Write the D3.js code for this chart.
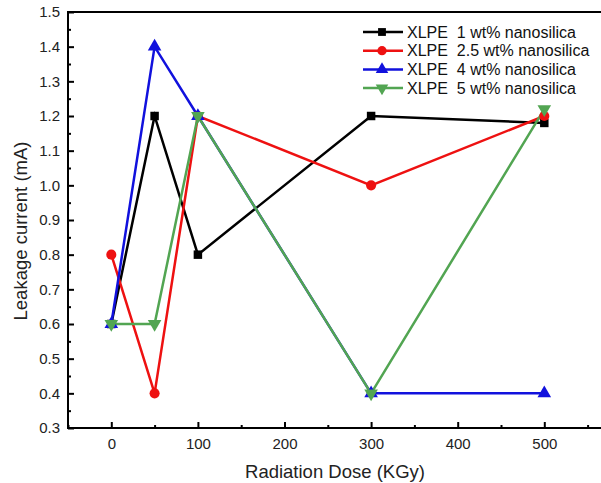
<!DOCTYPE html>
<html><head><meta charset="utf-8">
<script src="https://cdn.jsdelivr.net/npm/d3@7"></script>
<style>body{margin:0;background:#fff;overflow:hidden}svg{display:block}</style>
</head><body>
<script>
const doses = [0, 50, 100, 300, 500];
const seriesNames = ["XLPE  1 wt% nanosilica", "XLPE  2.5 wt% nanosilica", "XLPE  4 wt% nanosilica", "XLPE  5 wt% nanosilica"];
const s1 = [0.6, 1.2, 0.8, 1.2, 1.18];
const s25 = [0.8, 0.4, 1.2, 1.0, 1.2];
const s4 = [0.6, 1.4, 1.2, 0.4, 0.4];
const s5 = [0.6, 0.6, 1.2, 0.4, 1.22];
const xTicks = [0, 100, 200, 300, 400, 500];
const yTicks = [0.3,0.4,0.5,0.6,0.7,0.8,0.9,1.0,1.1,1.2,1.3,1.4,1.5];

const colors = ["#000000", "#ee1111", "#1111dd", "#52a552"];
const shapes = [d3.symbolSquare, d3.symbolCircle, d3.symbolTriangle, d3.symbolTriangle];
const rotations = [0, 0, 0, 180];
const sizes = [72, 80, 80, 80];
const allSeries = [s1, s25, s4, s5];

const W = 601, H = 483;
const svg = d3.select("body").append("svg").attr("width", W).attr("height", H);
const mLeft = 68, mTop = 12, mBottom = 428;
const x = d3.scaleLinear().domain([-50, 600]).range([mLeft, mLeft + 650 * 0.866]);
const y = d3.scaleLinear().domain([0.3, 1.5]).range([mBottom, mTop]);
const font = "Liberation Sans, Arial, sans-serif";

// frame
svg.append("rect").attr("x", mLeft).attr("y", mTop).attr("width", x(600) - mLeft).attr("height", mBottom - mTop)
  .attr("fill", "none").attr("stroke", "#000").attr("stroke-width", 2);

// x axis
const xAxis = d3.axisBottom(x).tickValues(xTicks).tickSize(-6).tickPadding(10).tickFormat(d3.format("d"));
const gx = svg.append("g").attr("transform", `translate(0,${mBottom})`).call(xAxis);
gx.select(".domain").remove();
gx.selectAll("line").attr("stroke-width", 2);
gx.selectAll("text").attr("font-family", font).attr("font-size", 15).attr("fill", "#222");
const gxm = svg.append("g").attr("transform", `translate(0,${mBottom})`)
  .call(d3.axisBottom(x).tickValues([-50,50,150,250,350,450,550]).tickSize(-3).tickFormat(""));
gxm.select(".domain").remove();
gxm.selectAll("line").attr("stroke-width", 2);

// y axis
const yAxis = d3.axisLeft(y).tickValues(yTicks).tickSize(-6).tickPadding(8).tickFormat(d3.format(".1f"));
const gy = svg.append("g").attr("transform", `translate(${mLeft},0)`).call(yAxis);
gy.select(".domain").remove();
gy.selectAll("line").attr("stroke-width", 2);
gy.selectAll("text").attr("font-family", font).attr("font-size", 15).attr("fill", "#222");
const gym = svg.append("g").attr("transform", `translate(${mLeft},0)`)
  .call(d3.axisLeft(y).tickValues(d3.range(0.35, 1.5, 0.1)).tickSize(-3).tickFormat(""));
gym.select(".domain").remove();
gym.selectAll("line").attr("stroke-width", 2);

// titles
svg.append("text").attr("x", 335).attr("y", 478).attr("text-anchor", "middle")
  .attr("font-family", font).attr("font-size", 18.5).attr("fill", "#222").text("Radiation Dose (KGy)");
svg.append("text").attr("transform", `translate(27,231) rotate(-90)`).attr("text-anchor", "middle")
  .attr("font-family", font).attr("font-size", 18.5).attr("fill", "#222").text("Leakage current (mA)");

// series
const line = d3.line().x((d, i) => x(doses[i])).y(d => y(d));
allSeries.forEach((s, k) => {
  svg.append("path").datum(s).attr("d", line).attr("fill", "none")
    .attr("stroke", colors[k]).attr("stroke-width", 2.5).attr("stroke-linejoin", "miter");
});
allSeries.forEach((s, k) => {
  svg.selectAll(null).data(s).enter().append("path")
    .attr("d", d3.symbol().type(shapes[k]).size(sizes[k]))
    .attr("transform", (d, i) => `translate(${x(doses[i])},${y(d)}) rotate(${rotations[k]})`)
    .attr("fill", colors[k]);
});

// legend
const lg = svg.append("g");
seriesNames.forEach((n, k) => {
  const ly = 32 + k * 18.7;
  lg.append("line").attr("x1", 363).attr("x2", 403).attr("y1", ly).attr("y2", ly)
    .attr("stroke", colors[k]).attr("stroke-width", 2.5);
  lg.append("path").attr("d", d3.symbol().type(shapes[k]).size(sizes[k] * 0.85))
    .attr("transform", `translate(382,${ly}) rotate(${rotations[k]})`).attr("fill", colors[k]);
  lg.append("text").attr("x", 407).attr("y", ly + 5.5).attr("font-family", font).attr("font-size", 16)
    .attr("fill", "#111").attr("xml:space", "preserve").style("white-space", "pre").text(n);
});
</script>
</body></html>
